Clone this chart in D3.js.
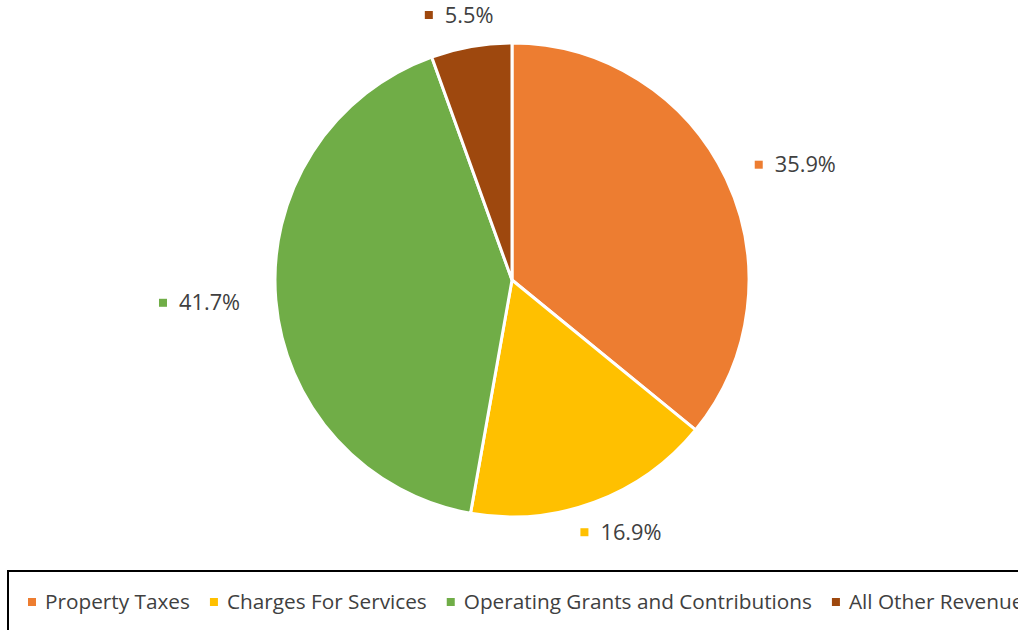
<!DOCTYPE html>
<html><head><meta charset="utf-8">
<script src="https://cdn.jsdelivr.net/npm/d3@7"></script>
<style>html,body{margin:0;padding:0;background:#fff;overflow:hidden}</style>
</head><body>
<svg id="c" width="1018" height="630"></svg>
<script>
const categories = ["Property Taxes", "Charges For Services", "Operating Grants and Contributions", "All Other Revenue"];
const values = [35.9, 16.9, 41.7, 5.5];
const labels = ["35.9%", "16.9%", "41.7%", "5.5%"];
const colors = ["#ED7D31", "#FFC000", "#70AD47", "#9E480E"];

const W = 1018, H = 630;
const svg = d3.select("#c");
const font = "'Open Sans', sans-serif";
const cx = 512, cy = 280, r = 237;

// fit font size so the text widths resemble the reference (Calibri-like metrics)
const probe = svg.append("text").attr("font-family", font).attr("font-size", 20).text("Property Taxes");
const fs = 20 * 145 / probe.node().getComputedTextLength();
probe.remove();

const pie = d3.pie().sort(null).value(d => d)(values);
const arc = d3.arc().innerRadius(0).outerRadius(r);
const g = svg.append("g").attr("transform", `translate(${cx},${cy})`);
g.selectAll("path").data(pie).enter().append("path")
  .attr("d", arc).attr("fill", (d, i) => colors[i])
  .attr("stroke", "#fff").attr("stroke-width", 3).attr("stroke-linejoin", "round");

// data labels
const lg = g.selectAll("g.lbl").data(pie).enter().append("g").attr("class", "lbl");
lg.each(function(d, i) {
  const s = d3.select(this);
  const t = s.append("text").attr("font-family", font).attr("font-size", fs * 1.05).attr("fill", "#404040")
    .attr("x", 20).attr("dy", "0.35em").text(labels[i]);
  const tw = t.node().getComputedTextLength();
  const w = 20 + tw, h = 24;
  s.append("rect").attr("x", 0).attr("y", -4).attr("width", 8).attr("height", 8).attr("fill", colors[i]);
  const a = (d.startAngle + d.endAngle) / 2;
  const ux = Math.sin(a), uy = -Math.cos(a);
  const R = r + 20;
  const ccx = ux * (R + 16) + ux * w / 2, ccy = uy * R + uy * h / 2;
  s.attr("transform", `translate(${ccx - w / 2},${ccy})`);
});

// legend
svg.append("rect").attr("x", 8).attr("y", 571).attr("width", 1200).attr("height", 120)
  .attr("fill", "none").attr("stroke", "#000").attr("stroke-width", 2);
let lx = 28;
const ly = 602;
categories.forEach((c, i) => {
  svg.append("rect").attr("x", lx).attr("y", ly - 4).attr("width", 8).attr("height", 8).attr("fill", colors[i]);
  const t = svg.append("text").attr("x", lx + 17).attr("y", ly).attr("dy", "0.35em")
    .attr("font-family", font).attr("font-size", fs).attr("fill", "#404040").text(c);
  lx += 17 + t.node().getComputedTextLength() + 20;
});
</script>
</body></html>
